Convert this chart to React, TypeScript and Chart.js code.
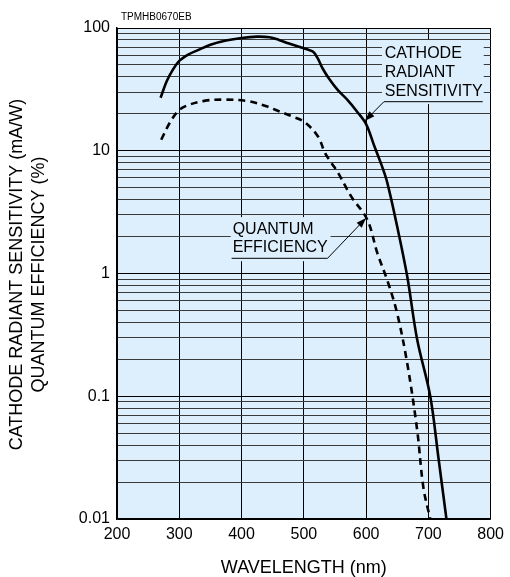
import React, { useEffect, useRef } from 'react';
import { Chart, registerables } from 'chart.js';

Chart.register(...registerables);

const FONT = '"Liberation Sans", Arial, Helvetica, sans-serif';

// Cathode radiant sensitivity (mA/W)
const csWavelength = [270, 280, 290, 300, 315, 330, 350, 375, 400, 425, 445, 460, 475, 490, 505, 515, 522, 530, 540, 555, 570, 585, 600, 613, 625, 634, 650, 666, 682, 703, 716, 729];
const csSensitivity = [27, 37, 46, 54, 61, 66, 73, 79, 83, 85, 84, 80, 75, 71, 67, 64, 57, 47, 39, 31, 26, 21, 16.5, 11, 7.6, 5.5, 2.4, 0.95, 0.29, 0.1, 0.032, 0.01];

// Quantum efficiency (%)
const qeWavelength = [271, 285, 298, 311, 340, 372, 412, 440, 460, 482, 502, 523, 534, 544, 555, 576, 602, 618, 635, 650, 666, 682, 692, 703];
const qeEfficiency = [12.3, 17, 21, 23.2, 25.5, 26.1, 25.3, 23, 21, 19, 17, 13, 9.6, 8, 6.6, 4.25, 2.74, 1.47, 0.85, 0.47, 0.186, 0.053, 0.018, 0.01];

const yTickLabels = [0.01, 0.1, 1, 10, 100];
const yMinorMultipliers = [1, 2, 3, 4, 5, 6, 7, 8, 9];
const xTitle = 'WAVELENGTH (nm)';
const yTitleLines = ['CATHODE RADIANT SENSITIVITY (mA/W)', 'QUANTUM EFFICIENCY (%)'];
const codeLabel = 'TPMHB0670EB';

const isLabelTick = (v: number) => yTickLabels.some((t) => Math.abs(v - t) / t < 1e-6);

type Note = {
  lines: string[];
  box: [number, number, number, number];
  text: [number, number];
  lineHeight: number;
  underline: [number, number, number];
  from: 'left' | 'right';
  tip: [number, number];
};

const notes: Note[] = [
  {
    lines: ['CATHODE', 'RADIANT', 'SENSITIVITY'],
    box: [625.4, 788.9, 79.8, 24.0],
    text: [630, 61.4],
    lineHeight: 19,
    underline: [628.6, 787.3, 25.1],
    from: 'left',
    tip: [598, 17.5],
  },
  {
    lines: ['QUANTUM', 'EFFICIENCY'],
    box: [382.5, 542.9, 2.88, 1.26],
    text: [385.7, 2.3],
    lineHeight: 18,
    underline: [384, 538.1, 1.33],
    from: 'right',
    tip: [600, 2.83],
  },
];

const BG = '#DDEFFC';

const decorPlugin = {
  id: 'decor',
  beforeDraw(chart: any) {
    const { ctx, chartArea: a } = chart;
    ctx.save();
    ctx.fillStyle = BG;
    ctx.fillRect(a.left, a.top, a.right - a.left, a.bottom - a.top);
    ctx.restore();
  },
  beforeDatasetsDraw(chart: any) {
    const { ctx } = chart;
    const xs = chart.scales.x;
    const ys = chart.scales.y;
    ctx.save();
    for (const n of notes) {
      const bx0 = xs.getPixelForValue(n.box[0]);
      const bx1 = xs.getPixelForValue(n.box[1]);
      const by0 = ys.getPixelForValue(n.box[2]);
      const by1 = ys.getPixelForValue(n.box[3]);
      ctx.fillStyle = BG;
      ctx.fillRect(bx0, by0, bx1 - bx0, by1 - by0);

      ctx.fillStyle = '#000';
      ctx.font = `16px ${FONT}`;
      ctx.textBaseline = 'middle';
      ctx.textAlign = 'left';
      const tx = xs.getPixelForValue(n.text[0]);
      const ty = ys.getPixelForValue(n.text[1]);
      n.lines.forEach((l, i) => ctx.fillText(l, tx, ty + i * n.lineHeight));

      const ux0 = xs.getPixelForValue(n.underline[0]);
      const ux1 = xs.getPixelForValue(n.underline[1]);
      const uy = ys.getPixelForValue(n.underline[2]);
      const sx = n.from === 'left' ? ux0 : ux1;
      const px = xs.getPixelForValue(n.tip[0]);
      const py = ys.getPixelForValue(n.tip[1]);
      ctx.strokeStyle = '#000';
      ctx.lineWidth = 1;
      ctx.beginPath();
      ctx.moveTo(ux1, uy);
      ctx.lineTo(ux0, uy);
      ctx.moveTo(sx, uy);
      ctx.lineTo(px, py);
      ctx.stroke();
      const ang = Math.atan2(py - uy, px - sx);
      const L = 10;
      const W = 3.5;
      ctx.beginPath();
      ctx.moveTo(px, py);
      ctx.lineTo(px - L * Math.cos(ang) + W * Math.sin(ang), py - L * Math.sin(ang) - W * Math.cos(ang));
      ctx.lineTo(px - L * Math.cos(ang) - W * Math.sin(ang), py - L * Math.sin(ang) + W * Math.cos(ang));
      ctx.closePath();
      ctx.fill();
    }
    ctx.restore();
  },
  afterDraw(chart: any) {
    const { ctx, chartArea: a } = chart;
    ctx.save();
    ctx.fillStyle = '#000';
    ctx.textBaseline = 'middle';
    ctx.font = `10px ${FONT}`;
    ctx.textAlign = 'left';
    ctx.fillText(codeLabel, a.left + 4, a.top - 11);

    ctx.font = `18px ${FONT}`;
    ctx.textAlign = 'center';
    ctx.fillText(xTitle, (a.left + a.right) / 2, 568);

    const cy = (a.top + a.bottom) / 2 + 1;
    const lx = [17.5, 39.5];
    yTitleLines.forEach((t, i) => {
      ctx.save();
      ctx.translate(lx[i], cy);
      ctx.rotate(-Math.PI / 2);
      ctx.fillText(t, 0, 0);
      ctx.restore();
    });
    ctx.restore();
  },
};

export default function App() {
  const ref = useRef<HTMLCanvasElement | null>(null);

  useEffect(() => {
    document.body.style.margin = '0';
    if (!ref.current) return;
    const chart = new Chart(ref.current, {
      type: 'line',
      data: {
        datasets: [
          {
            label: 'Cathode radiant sensitivity',
            data: csWavelength.map((x, i) => ({ x, y: csSensitivity[i] })),
            borderColor: '#000',
            borderWidth: 2.6,
            pointRadius: 0,
            fill: false,
            tension: 0.35,
          },
          {
            label: 'Quantum efficiency',
            data: qeWavelength.map((x, i) => ({ x, y: qeEfficiency[i] })),
            borderColor: '#000',
            borderWidth: 2.6,
            borderDash: [7, 5],
            pointRadius: 0,
            fill: false,
            tension: 0.35,
          },
        ],
      },
      options: {
        animation: false,
        responsive: false,
        maintainAspectRatio: false,
        layout: { padding: { top: 28, right: 15, left: 0, bottom: 0 } },
        plugins: { legend: { display: false }, tooltip: { enabled: false }, title: { display: false } },
        scales: {
          x: {
            type: 'linear',
            min: 200,
            max: 800,
            afterFit: (s: any) => {
              s.height = 58;
            },
            ticks: {
              stepSize: 100,
              autoSkip: false,
              maxRotation: 0,
              color: '#000',
              padding: 6,
              font: { family: FONT, size: 16 },
            },
            grid: { color: '#000', lineWidth: 1, drawTicks: false },
            border: { display: true, color: '#000', width: 1.5 },
          },
          y: {
            type: 'logarithmic',
            min: 0.01,
            max: 100,
            afterFit: (s: any) => {
              s.width = 117;
            },
            afterBuildTicks: (s: any) => {
              const ticks: { value: number }[] = [];
              for (let i = 0; i < yTickLabels.length; i++) {
                const base = yTickLabels[i];
                for (const m of yMinorMultipliers) {
                  const v = base * m;
                  if (v <= yTickLabels[yTickLabels.length - 1] * (1 + 1e-9)) ticks.push({ value: v });
                }
              }
              s.ticks = ticks;
            },
            ticks: {
              autoSkip: false,
              color: '#000',
              padding: 7,
              font: { family: FONT, size: 16 },
              callback: (v: any) => (isLabelTick(Number(v)) ? String(Number(v)) : ''),
            },
            grid: {
              color: (c: any) => (c.tick && isLabelTick(c.tick.value) ? '#000' : '#3a3a3a'),
              lineWidth: 1,
              drawTicks: false,
            },
            border: { display: true, color: '#000', width: 1.5 },
          },
        },
      },
      plugins: [decorPlugin],
    } as any);
    return () => chart.destroy();
  }, []);

  return (
    <div style={{ width: 510, height: 577 }}>
      <canvas ref={ref} width={510} height={577} style={{ display: 'block' }} />
    </div>
  );
}
